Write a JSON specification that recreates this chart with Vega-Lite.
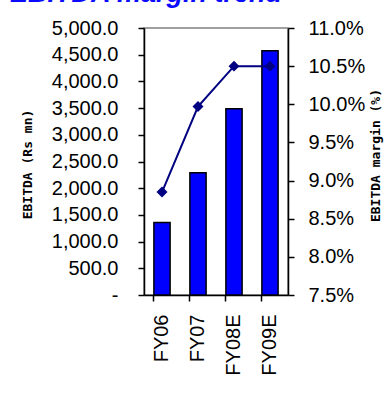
{
  "$schema": "https://vega.github.io/schema/vega-lite/v6.json",
  "autosize": {"type": "none"},
  "width": 144,
  "height": 267,
  "padding": {"left": 144, "top": 28, "right": 102, "bottom": 106},
  "background": "white",
  "title": {
    "text": "EBITDA margin trend",
    "anchor": "start",
    "frame": "group",
    "dx": -134,
    "dy": -10,
    "offset": 0,
    "font": "Liberation Sans",
    "fontSize": 27,
    "fontWeight": "bold",
    "fontStyle": "italic",
    "color": "#0a0aff"
  },
  "config": {
    "font": "Liberation Sans",
    "view": {"stroke": "#808080", "strokeWidth": 1.5},
    "axis": {
      "labelFont": "Liberation Sans",
      "labelFontSize": 20,
      "labelColor": "#000000",
      "domainColor": "#000000",
      "domainWidth": 1.5,
      "tickColor": "#000000",
      "tickWidth": 1.5,
      "grid": false
    }
  },
  "data": {
    "values": [
      {"year": "FY06", "ebitda": 1360, "margin": 0.0885},
      {"year": "FY07", "ebitda": 2290, "margin": 0.0997},
      {"year": "FY08E", "ebitda": 3490, "margin": 0.105},
      {"year": "FY09E", "ebitda": 4575, "margin": 0.105}
    ]
  },
  "encoding": {
    "x": {
      "field": "year",
      "type": "nominal",
      "sort": null,
      "scale": {"paddingInner": 0.55, "paddingOuter": 0.275},
      "axis": {
        "title": null,
        "labelAngle": -90,
        "labelAlign": "right",
        "labelBaseline": "middle",
        "labelPadding": 13,
        "tickSize": 6,
        "bandPosition": 0
      }
    }
  },
  "layer": [
    {
      "mark": {"type": "bar", "fill": "#0000ff", "stroke": "#000000", "strokeWidth": 1.5},
      "encoding": {
        "y": {
          "field": "ebitda",
          "type": "quantitative",
          "scale": {"domain": [0, 5000], "nice": false},
          "axis": {
            "orient": "left",
            "values": [0, 500, 1000, 1500, 2000, 2500, 3000, 3500, 4000, 4500, 5000],
            "labelExpr": "datum.value == 0 ? '-\u00a0\u00a0\u00a0\u00a0' : format(datum.value, ',.1f')",
            "labelPadding": 20,
            "tickSize": 6,
            "title": "EBITDA (Rs mn)",
            "titleFont": "DejaVu Sans Mono",
            "titleFontSize": 13,
            "titleFontWeight": "bold",
            "titleColor": "#000000",
            "titleX": -117,
            "titleY": 136,
            "titleAngle": -90,
            "titleAlign": "center",
            "titleBaseline": "middle"
          }
        }
      }
    },
    {
      "mark": {"type": "line", "color": "#000080", "strokeWidth": 2, "point": {"shape": "diamond", "filled": true, "size": 120, "color": "#000080"}},
      "encoding": {
        "y": {
          "field": "margin",
          "type": "quantitative",
          "scale": {"domain": [0.075, 0.11], "nice": false, "zero": false},
          "axis": {
            "orient": "right",
            "values": [0.075, 0.08, 0.085, 0.09, 0.095, 0.1, 0.105, 0.11],
            "format": ".1%",
            "labelPadding": 14,
            "tickSize": 6,
            "title": "EBITDA margin (%)",
            "titleFont": "DejaVu Sans Mono",
            "titleFontSize": 13,
            "titleFontWeight": "bold",
            "titleColor": "#000000",
            "titleX": 87,
            "titleY": 127,
            "titleAngle": -90,
            "titleAlign": "center",
            "titleBaseline": "middle"
          }
        }
      }
    }
  ],
  "resolve": {"scale": {"y": "independent"}}
}
